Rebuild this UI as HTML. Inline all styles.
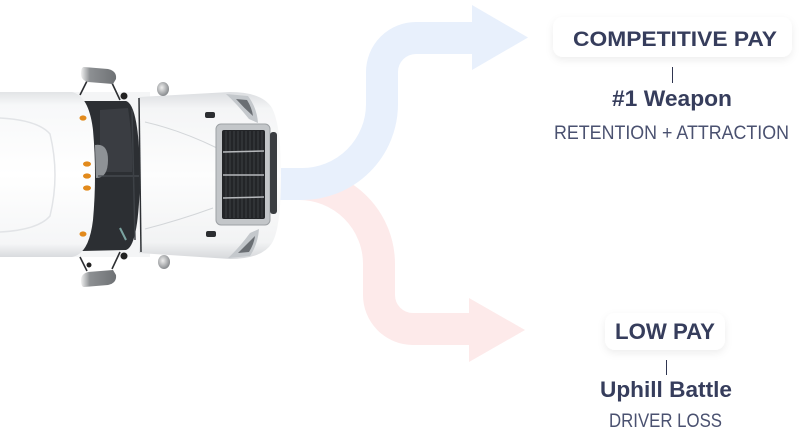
<!DOCTYPE html>
<html>
<head>
<meta charset="utf-8">
<style>
html,body{margin:0;padding:0;background:#fff;}
body{width:799px;height:430px;overflow:hidden;}
svg{display:block;}
text{font-family:"Liberation Sans",Arial,sans-serif;}
</style>
</head>
<body>
<svg width="799" height="430" viewBox="0 0 799 430" xmlns="http://www.w3.org/2000/svg">
<defs>
  <filter id="sh" x="-20%" y="-40%" width="140%" height="190%">
    <feDropShadow dx="0" dy="3" stdDeviation="4" flood-color="#000" flood-opacity="0.07"/>
  </filter>
  <linearGradient id="roofG" x1="0" y1="0" x2="0" y2="1">
    <stop offset="0" stop-color="#e2e4e6"/>
    <stop offset="0.08" stop-color="#f7f8f9"/>
    <stop offset="0.5" stop-color="#ffffff"/>
    <stop offset="0.92" stop-color="#f5f6f7"/>
    <stop offset="1" stop-color="#d9dbde"/>
  </linearGradient>
  <linearGradient id="hoodG" x1="0" y1="0" x2="0" y2="1">
    <stop offset="0" stop-color="#dcdee1"/>
    <stop offset="0.1" stop-color="#f4f5f6"/>
    <stop offset="0.5" stop-color="#fdfdfd"/>
    <stop offset="0.9" stop-color="#f2f3f4"/>
    <stop offset="1" stop-color="#d6d8db"/>
  </linearGradient>
  <linearGradient id="mirG" x1="0" y1="0" x2="1" y2="0">
    <stop offset="0" stop-color="#f0f0f0"/>
    <stop offset="0.25" stop-color="#8d9093"/>
    <stop offset="1" stop-color="#6e7174"/>
  </linearGradient>
  <radialGradient id="rmG" cx="0.4" cy="0.4" r="0.6">
    <stop offset="0" stop-color="#eeeeee"/>
    <stop offset="1" stop-color="#8a8d90"/>
  </radialGradient>
</defs>

<!-- arrows -->
<path d="M 270 184 H 299 A 80 80 0 0 1 379 264 V 295 A 34 34 0 0 0 413 329 H 472" fill="none" stroke="#fdeaea" stroke-width="32"/>
<polygon points="469,298 525,330 469,362" fill="#fdeaea"/>
<path d="M 270 184 H 302 A 80 80 0 0 0 382 104 V 72 A 34 34 0 0 1 416 38 H 475" fill="none" stroke="#e8f0fc" stroke-width="32"/>
<polygon points="472,5 528,37.5 472,70" fill="#e8f0fc"/>

<!-- truck -->
<rect x="60" y="92" width="90" height="165" fill="#f4f5f6"/>
<line x1="87" y1="81" x2="80" y2="95" stroke="#2d2f32" stroke-width="1.6"/>
<line x1="112" y1="83" x2="120" y2="100" stroke="#2d2f32" stroke-width="1.6"/>
<circle cx="124" cy="96" r="3.5" fill="#222"/>
<line x1="87" y1="271" x2="80" y2="257" stroke="#2d2f32" stroke-width="1.6"/>
<line x1="112" y1="269" x2="120" y2="252" stroke="#2d2f32" stroke-width="1.6"/>
<circle cx="124" cy="256" r="3.5" fill="#222"/>
<circle cx="89" cy="265" r="2.5" fill="#222"/>
<path d="M 84 67 L 108 69 Q 117 71 116 79 L 113 84 L 88 82 Q 81 80 81 74 Q 81 67 84 67 Z" fill="url(#mirG)"/>
<path d="M 84 287 L 108 285 Q 117 283 116 275 L 113 270 L 88 272 Q 81 274 81 280 Q 81 287 84 287 Z" fill="url(#mirG)"/>
<path d="M 82 101 L 126 101 Q 139 105 140 175 Q 139 246 126 250 L 82 251 Z" fill="#2c2f33"/>
<path d="M 100 110 L 128 108 Q 133 140 132 172 L 100 172 Z" fill="#3a3d42"/>
<path d="M 95 145 Q 108 143 108 160 Q 108 178 96 178 Z" fill="#8e9296"/>
<line x1="98" y1="176" x2="139" y2="176" stroke="#4a4e53" stroke-width="1.2"/>
<line x1="132" y1="110" x2="135" y2="240" stroke="#3d4146" stroke-width="1.5"/>
<path d="M 120 228 L 126 240" stroke="#7aa3a0" stroke-width="2"/>
<path d="M 0 92 L 72 92 Q 89 96 93 130 Q 97 175 93 220 Q 89 254 72 257 L 0 257 Z" fill="url(#roofG)"/>
<path d="M 0 118 Q 38 120 50 134 Q 60 175 50 216 Q 38 230 0 232" fill="none" stroke="#e2e4e7" stroke-width="1.5"/>
<ellipse cx="83" cy="118" rx="3.5" ry="2.6" fill="#e28a1c"/>
<ellipse cx="87" cy="164" rx="4" ry="2.6" fill="#e28a1c"/>
<ellipse cx="87" cy="176" rx="4" ry="2.6" fill="#e28a1c"/>
<ellipse cx="87" cy="188" rx="4" ry="2.6" fill="#e28a1c"/>
<ellipse cx="83" cy="234" rx="3.5" ry="2.6" fill="#e28a1c"/>
<path d="M 139 97 L 230 92 Q 262 92 272 108 Q 281 125 281 175 Q 281 228 272 243 Q 262 259 230 259 L 139 253 Q 144 175 139 97 Z" fill="url(#hoodG)"/>
<line x1="139" y1="98" x2="141" y2="252" stroke="#2e3135" stroke-width="1.5"/>
<path d="M 145 122 Q 180 130 217 148" fill="none" stroke="#d3d6d9" stroke-width="1"/>
<path d="M 145 229 Q 180 220 213 208" fill="none" stroke="#d3d6d9" stroke-width="1"/>
<ellipse cx="163" cy="89" rx="6" ry="7" fill="url(#rmG)"/>
<ellipse cx="164" cy="262" rx="6" ry="7" fill="url(#rmG)"/>
<rect x="205" y="112" width="10" height="6" rx="2" fill="#2c2e31"/>
<rect x="206" y="231" width="10" height="6" rx="2" fill="#2c2e31"/>
<path d="M 226 94 L 248 96 Q 257 108 258 123 L 249 119 Q 237 104 226 94 Z" fill="#c4c8cc"/>
<path d="M 236 99 L 247 100 Q 252 108 253 116 Q 244 108 236 99 Z" fill="#6a6e73"/>
<path d="M 228 258 L 250 256 Q 258 244 259 229 L 250 233 Q 239 248 228 258 Z" fill="#c4c8cc"/>
<path d="M 238 253 L 249 252 Q 254 244 255 236 Q 246 245 238 253 Z" fill="#6a6e73"/>
<rect x="216" y="124" width="54" height="101" rx="5" fill="#c3c6c9" stroke="#9da1a5" stroke-width="1"/>
<rect x="222" y="130" width="43" height="89" rx="2" fill="#232528"/>
<g stroke="#3e4145" stroke-width="1">
  <line x1="226" y1="131" x2="226" y2="218"/>
  <line x1="230" y1="131" x2="230" y2="218"/>
  <line x1="234" y1="131" x2="234" y2="218"/>
  <line x1="238" y1="131" x2="238" y2="218"/>
  <line x1="242" y1="131" x2="242" y2="218"/>
  <line x1="246" y1="131" x2="246" y2="218"/>
  <line x1="250" y1="131" x2="250" y2="218"/>
  <line x1="254" y1="131" x2="254" y2="218"/>
  <line x1="258" y1="131" x2="258" y2="218"/>
  <line x1="262" y1="131" x2="262" y2="218"/>
</g>
<g stroke="#b5b8bb" stroke-width="1.5">
  <line x1="223" y1="152" x2="264" y2="151"/>
  <line x1="223" y1="175" x2="264" y2="175"/>
  <line x1="223" y1="198" x2="264" y2="197"/>
</g>
<rect x="270" y="132" width="7" height="82" rx="3" fill="#3a3d41"/>

<!-- labels top -->
<rect x="553" y="17" width="239" height="40" rx="10" fill="#ffffff" filter="url(#sh)"/>
<text x="573" y="46" font-size="21" font-weight="700" fill="#363d5c" textLength="204" lengthAdjust="spacingAndGlyphs">COMPETITIVE PAY</text>
<line x1="672.5" y1="67" x2="672.5" y2="83" stroke="#2f3550" stroke-width="1"/>
<text x="612" y="106" font-size="22" font-weight="700" fill="#363d5c" textLength="120" lengthAdjust="spacingAndGlyphs">#1 Weapon</text>
<text x="554" y="139" font-size="19" font-weight="400" fill="#4a5170" textLength="235" lengthAdjust="spacingAndGlyphs">RETENTION + ATTRACTION</text>

<!-- labels bottom -->
<rect x="605" y="313" width="120" height="37" rx="10" fill="#ffffff" filter="url(#sh)"/>
<text x="615" y="339" font-size="22" font-weight="700" fill="#363d5c" textLength="100" lengthAdjust="spacingAndGlyphs">LOW PAY</text>
<line x1="666.5" y1="360" x2="666.5" y2="375" stroke="#2f3550" stroke-width="1"/>
<text x="600" y="397" font-size="22" font-weight="700" fill="#363d5c" textLength="132" lengthAdjust="spacingAndGlyphs">Uphill Battle</text>
<text x="609" y="427" font-size="19" font-weight="400" fill="#4a5170" textLength="113" lengthAdjust="spacingAndGlyphs">DRIVER LOSS</text>
</svg>
</body>
</html>
